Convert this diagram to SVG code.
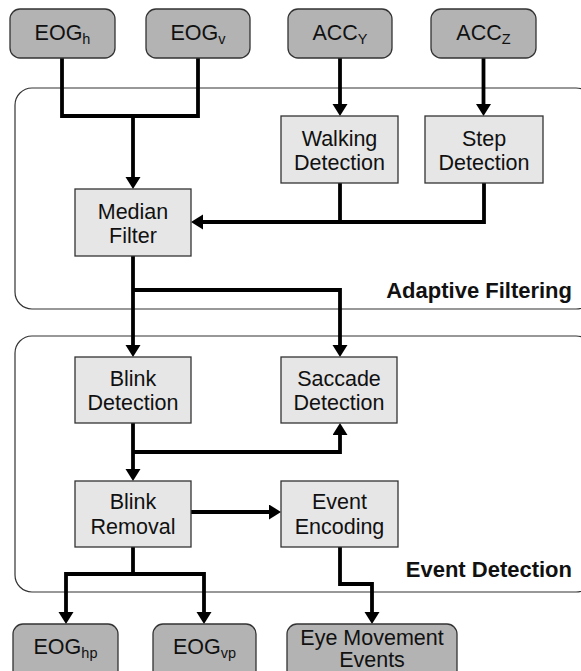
<svg xmlns="http://www.w3.org/2000/svg" width="581" height="671" viewBox="0 0 581 671">
<defs>
<marker id="ah" markerUnits="userSpaceOnUse" markerWidth="14" markerHeight="16" refX="2" refY="7.5" orient="auto">
<path d="M0,0 L12,7.5 L0,15 z" fill="#000"/>
</marker>
<style>
.io{fill:#b3b3b3;stroke:#333;stroke-width:1.3}
.proc{fill:#e6e6e6;stroke:#333;stroke-width:1.3}
.grp{fill:none;stroke:#333;stroke-width:1.2}
text{font-family:"Liberation Sans",Arial,Helvetica,sans-serif;font-size:21.5px;fill:#111;text-anchor:middle}
.lbl{font-weight:bold;font-size:22px;text-anchor:end}
.sub{font-size:14.5px}
.c{fill:none;stroke:#000;stroke-width:3.8}
.ca{fill:none;stroke:#000;stroke-width:3.8;marker-end:url(#ah)}
</style>
</defs>
<rect width="581" height="671" fill="#fff"/>
<g id="grp-adaptive">
<rect class="grp" x="15" y="88" width="578" height="221" rx="17"/>
<text class="lbl" x="572" y="298">Adaptive Filtering</text>
</g>
<g id="grp-event">
<rect class="grp" x="15" y="336" width="578" height="256" rx="17"/>
<text class="lbl" x="572" y="577">Event Detection</text>
</g>
<g id="connectors">
<path class="c" d="M62,58 V116 H198 V58"/>
<path class="ca" d="M133,116 V179"/>
<path class="ca" d="M340,58 V106"/>
<path class="ca" d="M483.5,58 V106"/>
<path class="c" d="M340,183 V222"/>
<path class="ca" d="M484,183 V222 H201"/>
<path class="ca" d="M133,256 V347"/>
<path class="ca" d="M133,290 H340 V347"/>
<path class="ca" d="M133,423 V471"/>
<path class="ca" d="M133,452 H340 V433"/>
<path class="ca" d="M191,512 H271"/>
<path class="c" d="M133,547 V574"/>
<path class="ca" d="M133,574 H66 V614"/>
<path class="ca" d="M133,574 H204 V614"/>
<path class="ca" d="M340,547 V584 H372 V614"/>
</g>
<g id="eogh">
<rect class="io" x="10" y="9" width="105" height="49" rx="10"/>
<text x="62.5" y="40">EOG<tspan class="sub" dy="4">h</tspan></text>
</g>
<g id="eogv">
<rect class="io" x="146" y="9" width="104" height="49" rx="10"/>
<text x="198" y="40">EOG<tspan class="sub" dy="4">v</tspan></text>
</g>
<g id="accy">
<rect class="io" x="288" y="9" width="104" height="49" rx="10"/>
<text x="340" y="40">ACC<tspan class="sub" dy="4">Y</tspan></text>
</g>
<g id="accz">
<rect class="io" x="431" y="9" width="105" height="49" rx="10"/>
<text x="483.5" y="40">ACC<tspan class="sub" dy="4">Z</tspan></text>
</g>
<g id="walking">
<rect class="proc" x="281" y="116" width="117" height="67"/>
<text x="339.5" y="146">Walking</text>
<text x="339.5" y="170">Detection</text>
</g>
<g id="step">
<rect class="proc" x="425" y="116" width="118" height="67"/>
<text x="484" y="146">Step</text>
<text x="484" y="170">Detection</text>
</g>
<g id="median">
<rect class="proc" x="75" y="189" width="116" height="67"/>
<text x="133" y="219">Median</text>
<text x="133" y="243">Filter</text>
</g>
<g id="blinkdet">
<rect class="proc" x="75" y="357" width="116" height="66"/>
<text x="133" y="386">Blink</text>
<text x="133" y="410">Detection</text>
</g>
<g id="saccade">
<rect class="proc" x="281" y="357" width="116" height="66"/>
<text x="339" y="386">Saccade</text>
<text x="339" y="410">Detection</text>
</g>
<g id="blinkrem">
<rect class="proc" x="75" y="481" width="116" height="66"/>
<text x="133" y="509">Blink</text>
<text x="133" y="534">Removal</text>
</g>
<g id="encoding">
<rect class="proc" x="281" y="481" width="117" height="66"/>
<text x="339.5" y="509">Event</text>
<text x="339.5" y="534">Encoding</text>
</g>
<g id="eoghp">
<rect class="io" x="13" y="624" width="105" height="60" rx="10"/>
<text x="65.5" y="654">EOG<tspan class="sub" dy="4">hp</tspan></text>
</g>
<g id="eogvp">
<rect class="io" x="153" y="624" width="103" height="60" rx="10"/>
<text x="204.5" y="654">EOG<tspan class="sub" dy="4">vp</tspan></text>
</g>
<g id="eyemove">
<rect class="io" x="287" y="624" width="170" height="60" rx="10"/>
<text x="372" y="645">Eye Movement</text>
<text x="372" y="667">Events</text>
</g>
</svg>
